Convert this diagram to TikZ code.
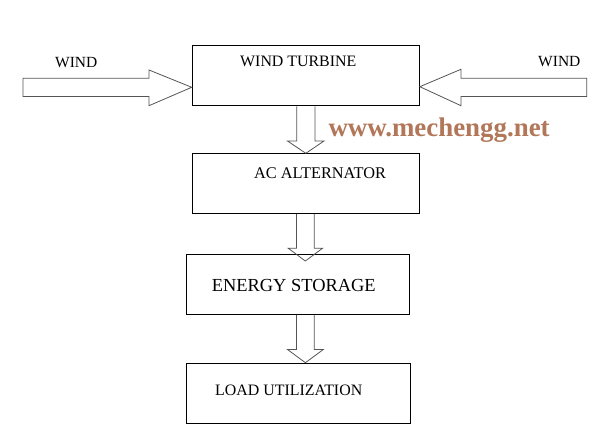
\documentclass[tikz,border=0pt]{standalone}
\usepackage{fontspec}
\setmainfont{Liberation Serif}
\definecolor{wm}{RGB}{178,118,88}
\definecolor{arrgray}{RGB}{85,85,85}
\begin{document}
\begin{tikzpicture}[x=1pt,y=-1pt,
  box/.style={draw=black,line width=0.8pt,rectangle,inner sep=0pt,anchor=north west},
  lbl/.style={anchor=base west,inner sep=0pt,font=\fontsize{15.9}{18}\selectfont},
  blockarrow/.style={draw=arrgray,line width=0.8pt,line join=miter}]
\useasboundingbox (0,0) rectangle (596,443);
\fill[white] (0,0) rectangle (596,443);
% boxes
\node[box,minimum width=227.3pt,minimum height=60.5pt] (turb) at (191.7,45) {};
\node[box,minimum width=227.6pt,minimum height=60pt] (alt) at (191.7,153.3) {};
\node[box,minimum width=223.6pt,minimum height=59.7pt] (stor) at (185.7,254.3) {};
\node[box,minimum width=224.3pt,minimum height=60pt] (load) at (185.7,362.7) {};
% texts
\node[lbl,font=\fontsize{15.5}{18}\selectfont] (w1) at (55,67.3) {WIND};
\node[lbl,font=\fontsize{15.5}{18}\selectfont] (w2) at (538,66.7) {WIND};
\node[lbl] (t1) at (240,66.7) {WIND TURBINE};
\node[lbl,font=\fontsize{16.3}{18}\selectfont] (t2) at (254,178.3) {AC ALTERNATOR};
\node[lbl,font=\fontsize{18.4}{21}\selectfont] (t3) at (211.7,291.7) {ENERGY STORAGE};
\node[lbl] (t4) at (215,395) {LOAD UTILIZATION};
\node[anchor=base west,inner sep=0pt,text=wm,font=\bfseries\fontsize{26.9}{30}\selectfont] (wm) at (328.3,136.7) {www.mechengg.net};
% left wind arrow (free end at the left)
\draw[blockarrow] (23,78.2) -- (149,78.2) -- (149,70) -- (turb.west |- 0,87.3) -- (149,105.7) -- (149,96.6) -- (23,96.6) -- cycle;
% right wind arrow (free end at the right)
\draw[blockarrow] (586.7,78.2) -- (461,78.2) -- (461,69.3) -- (turb.east |- 0,86.7) -- (461,105.7) -- (461,96.6) -- (586.7,96.6) -- cycle;
% down arrows
\draw[blockarrow] (296.7,0 |- turb.south) -- (296.7,141) -- (287.5,141) -- (305.8,0 |- alt.north) -- (324,141) -- (315,141) -- (315,0 |- turb.south);
\draw[blockarrow] (296.4,0 |- alt.south) -- (296.4,248.3) -- (288.3,248.3) -- (305.3,261) -- (322.5,248.3) -- (314.2,248.3) -- (314.2,0 |- alt.south);
\draw[blockarrow] (296.4,0 |- stor.south) -- (296.4,349.5) -- (287.5,349.5) -- (305.4,0 |- load.north) -- (323.3,349.5) -- (314.2,349.5) -- (314.2,0 |- stor.south);
\end{tikzpicture}
\end{document}
